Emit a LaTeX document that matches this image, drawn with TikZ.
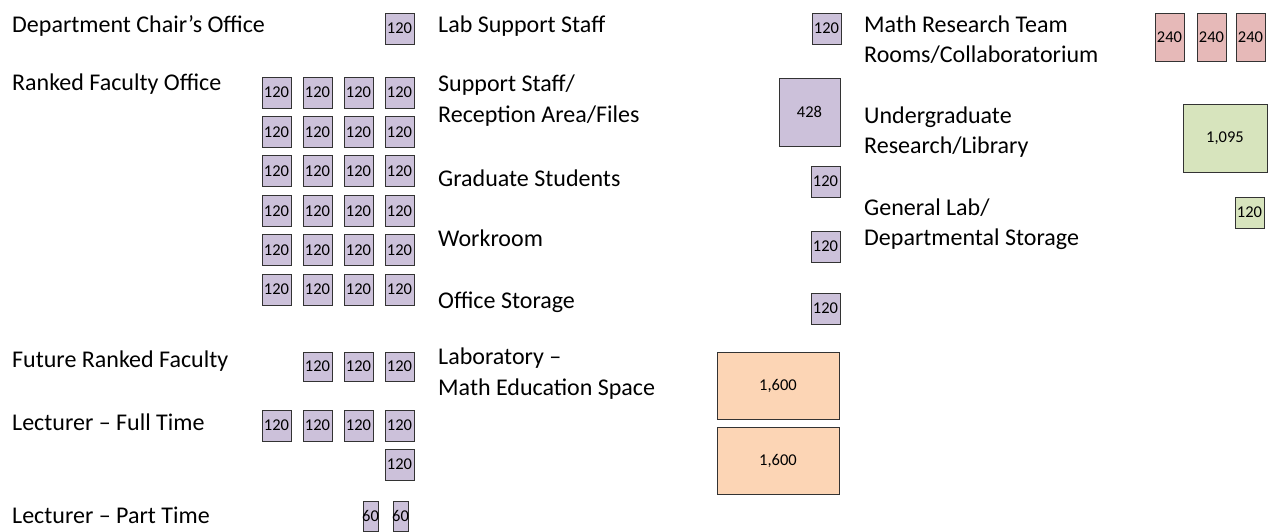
\documentclass[tikz,border=0pt]{standalone}
\usepackage{fontspec}
\setmainfont{Carlito}
\definecolor{purpleA}{RGB}{204,193,218}
\definecolor{pinkA}{RGB}{230,185,184}
\definecolor{greenA}{RGB}{215,228,189}
\definecolor{orangeA}{RGB}{252,213,181}
\newcommand\rb[7]{%
  \node[#6, minimum width={(#4-#2)*1pt}, minimum height={(#5-#3)*1pt}] (#1) at ({(#2+#4)/2},{(#3+#5)/2}) {};
  \node[num] (#1t) at (#1.center) {#7};}
\begin{document}
\begin{tikzpicture}[x=1pt,y=-1pt,
  lbl/.style={anchor=base west, inner sep=0pt, font=\fontsize{24}{28}\selectfont},
  room/.style={draw=black!80, line width=1pt, inner sep=0pt, outer sep=0pt},
  num/.style={inner sep=0pt, font=\fontsize{16.5}{18}\selectfont},
  pu/.style={room, fill=purpleA},
  pk/.style={room, fill=pinkA},
  gr/.style={room, fill=greenA},
  og/.style={room, fill=orangeA}]
\useasboundingbox (0,0) rectangle (1273,531);

% Left column labels
\node[lbl] (l1) at (12,32) {Department Chair’s Office};
\node[lbl] (l2) at (12,90) {Ranked Faculty Office};
\node[lbl] (l3) at (12,367) {Future Ranked Faculty};
\node[lbl] (l4) at (12,430) {Lecturer – Full Time};
\node[lbl] (l5) at (12,523) {Lecturer – Part Time};

% Left column boxes
\rb{dc}{385}{13}{414}{44}{pu}{120}
\foreach \c [count=\i] in {262,303,344,385}
  \foreach \r [count=\j] in {77,116.4,155.8,195.2,234.6,274}
    {\rb{rf\i\j}{\c}{\r}{\c+29}{\r+31}{pu}{120}}
\foreach \c [count=\i] in {303,344,385}
  {\rb{fr\i}{\c}{352}{\c+29}{381}{pu}{120}}
\foreach \c [count=\i] in {262,303,344,385}
  {\rb{lf\i}{\c}{410}{\c+29}{441}{pu}{120}}
\rb{lf5}{385}{449}{414}{480}{pu}{120}
\rb{lp1}{363}{501}{378}{531}{pu}{60}
\rb{lp2}{393}{501}{408}{531}{pu}{60}

% Middle column labels
\node[lbl] (m1) at (438,32) {Lab Support Staff};
\node[lbl] (m2) at (438,91) {Support Staff/};
\node[lbl] (m2b) at (438,122) {Reception Area/Files};
\node[lbl] (m3) at (438,186) {Graduate Students};
\node[lbl] (m4) at (438,246) {Workroom};
\node[lbl] (m5) at (438,308) {Office Storage};
\node[lbl] (m6) at (438,364) {Laboratory –};
\node[lbl] (m6b) at (438,395) {Math Education Space};

% Middle column boxes
\rb{ls}{812}{13}{841}{44}{pu}{120}
\rb{ss}{779}{78}{840}{146}{pu}{428}
\rb{gs}{811}{166}{840}{197}{pu}{120}
\rb{wr}{811}{231}{840}{262}{pu}{120}
\rb{os}{811}{293}{840}{324}{pu}{120}
\rb{lab1}{717}{352}{839}{419}{og}{1,600}
\rb{lab2}{717}{427}{839}{494}{og}{1,600}

% Right column labels
\node[lbl] (r1) at (864,32) {Math Research Team};
\node[lbl] (r1b) at (864,62) {Rooms/Collaboratorium};
\node[lbl] (r2) at (864,123) {Undergraduate};
\node[lbl] (r2b) at (864,153) {Research/Library};
\node[lbl] (r3) at (864,215) {General Lab/};
\node[lbl] (r3b) at (864,245) {Departmental Storage};

% Right column boxes
\rb{mr1}{1155}{13}{1184}{61}{pk}{240}
\rb{mr2}{1197}{13}{1226}{61}{pk}{240}
\rb{mr3}{1236}{13}{1265}{61}{pk}{240}
\rb{ur}{1183}{104}{1267}{172}{gr}{1,095}
\rb{gl}{1235}{197}{1264}{228}{gr}{120}
\end{tikzpicture}
\end{document}
